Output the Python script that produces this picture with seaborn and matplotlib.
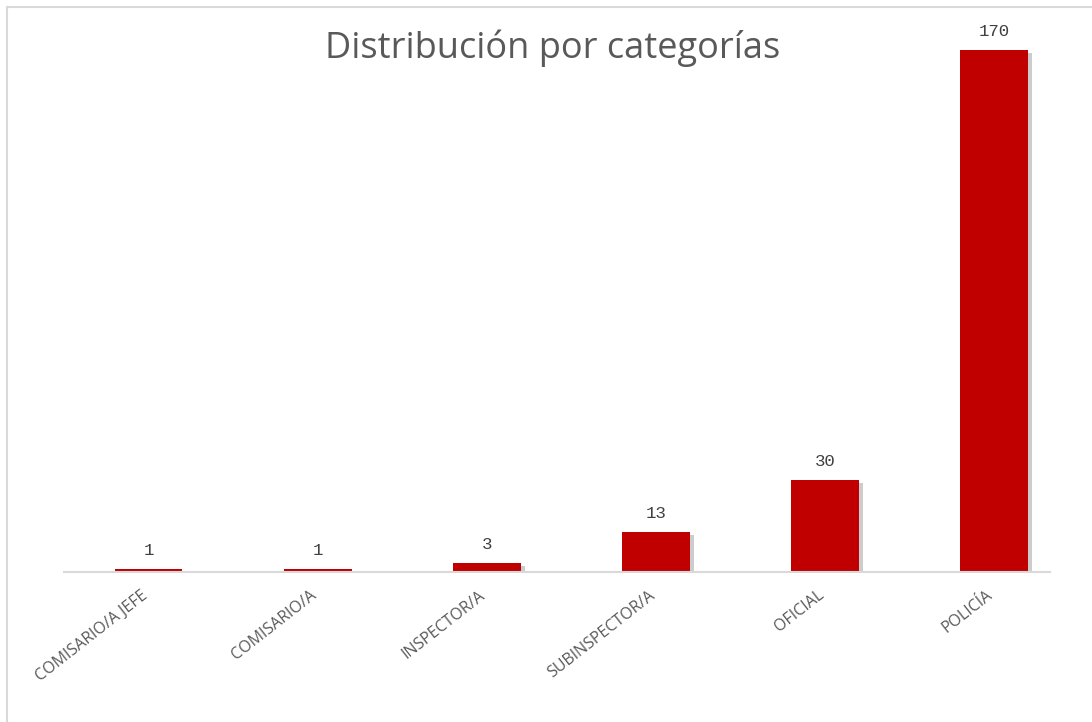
import matplotlib
matplotlib.use("Agg")
import matplotlib.pyplot as plt
import matplotlib.patheffects as pe
import matplotlib.transforms as mtransforms
from matplotlib.lines import Line2D
import seaborn as sns
import pandas as pd

categories = ["COMISARIO/A JEFE", "COMISARIO/A", "INSPECTOR/A", "SUBINSPECTOR/A", "OFICIAL", "POLICÍA"]
values = [1, 1, 3, 13, 30, 170]
title = "Distribución por categorías"

sns.set_theme(style="white")
plt.rcParams['font.family'] = ['Open Sans', 'DejaVu Sans']

df = pd.DataFrame({"cat": categories, "val": values})

fig = plt.figure(figsize=(10.92, 7.22), dpi=100)
W, H = 1092, 722
ax = fig.add_axes([64 / W, 1 - 572 / H, (1050 - 64) / W, (572 - 30) / H])

sns.barplot(data=df, x="cat", y="val", color="#C00000", width=0.4, ax=ax,
            saturation=1)
for p in ax.patches:
    p.set_path_effects([pe.SimplePatchShadow(offset=(3, -2), shadow_rgbFace="#000000", alpha=0.2),
                        pe.Normal()])
    p.set_edgecolor("none")

ax.set_xlim(-0.5, 5.33)
ax.set_ylim(0, 170 * (572 - 30) / 522)
for i, v in enumerate(values):
    ax.annotate(str(v), (i, v), xytext=(0, 8), textcoords="offset points",
                ha="center", va="bottom", fontsize=12.5, color="#404040",
                family="Liberation Mono")

ax.set_xlabel("")
ax.set_ylabel("")
ax.set_yticks([])
for s in ["top", "right", "left"]:
    ax.spines[s].set_visible(False)
ax.spines["bottom"].set_color("#d9d9d9")
ax.spines["bottom"].set_linewidth(1.5)
ax.tick_params(axis="x", length=0, pad=11)
ax.set_xticks(range(len(categories)))
ax.set_xticklabels(categories, rotation=38, ha="right", rotation_mode="anchor",
                   fontsize=11.5, color="#595959")
shift = mtransforms.ScaledTranslation(-8 / 100, 0, fig.dpi_scale_trans)
for lbl in ax.get_xticklabels():
    lbl.set_transform(lbl.get_transform() + shift)

fig.text(553 / W, 1 - 48 / H, title, ha="center", va="center", fontsize=26,
         color="#595959")

# chart frame border
fig.add_artist(Line2D([7 / W, 7 / W], [0, 1 - 7 / H], color="#d9d9d9", lw=1.5, transform=fig.transFigure))
fig.add_artist(Line2D([7 / W, 1], [1 - 7 / H, 1 - 7 / H], color="#d9d9d9", lw=1.5, transform=fig.transFigure))

fig.savefig("out.png", dpi=100)
